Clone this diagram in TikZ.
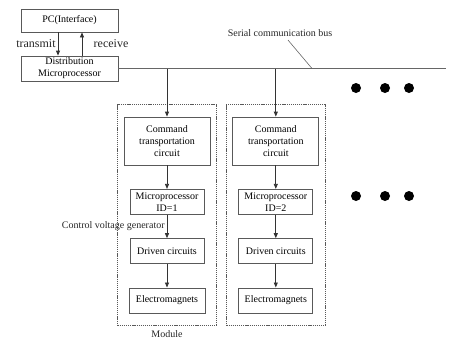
\documentclass[tikz,border=0pt]{standalone}
\usepackage{fontspec}
\setmainfont{Liberation Serif}
\usetikzlibrary{positioning, fit, arrows.meta}

\begin{document}
\begin{tikzpicture}[
        x=1pt, y=-1pt,
        node distance=23.5pt and 22pt,
        box/.style={draw=black!65, line width=0.8pt, rectangle, align=center, minimum width=74pt, minimum height=25pt, inner sep=1pt, font=\fontsize{10}{12}\selectfont},
        module/.style={draw=black!65, line width=0.7pt, dash pattern=on 1.2pt off 0.9pt, inner xsep=6pt, inner ysep=12pt},
        arrow/.style={-{Triangle[length=5pt, width=4pt]}, line width=0.8pt, black!80},
        line/.style={line width=0.8pt, black!60},
        lbl/.style={font=\fontsize{10}{12}\selectfont, text=black!85}
    ]
        \useasboundingbox (0,0) rectangle (449,338);

        % Nodes
        \node[box, minimum width=97pt, minimum height=23pt] (pc) at (69.5,20.5) {PC(Interface)};
        \node[box, minimum width=97pt] (dist) at (69.5,68.5) {Distribution\\Microprocessor};

        \node[box, minimum width=86pt, minimum height=48pt] (cmd1) at (167,141) {Command\\transportation\\circuit};
        \node[box, below=of cmd1] (micro1) {Microprocessor\\ID=1};
        \node[box, below=of micro1] (drive1) {Driven circuits};
        \node[box, below=of drive1, minimum width=76pt] (em1) {Electromagnets};

        \node[box, minimum width=86pt, minimum height=48pt, right=of cmd1] (cmd2) {Command\\transportation\\circuit};
        \node[box, below=of cmd2] (micro2) {Microprocessor\\ID=2};
        \node[box, below=of micro2] (drive2) {Driven circuits};
        \node[box, below=of drive2] (em2) {Electromagnets};

        \node[module, fit=(cmd1)(em1)] (mod1) {};
        \node[module, fit=(cmd2)(em2)] (mod2) {};
        \node[lbl, below=1pt of mod1] (modlbl) {Module};

        \node[lbl] (buslbl) at (280,33) {Serial communication bus};
        \coordinate (busend) at (446,68.5);
        \coordinate (tap) at (312,68.5);

        % PC <-> Distribution
        \draw[arrow] ([xshift=-11.5pt]pc.south) -- node[left, lbl, font=\fontsize{12}{14}\selectfont, inner sep=2pt]{transmit} ([xshift=-11.5pt]dist.north);
        \draw[arrow] ([xshift=12.5pt]dist.north) -- node[right, lbl, font=\fontsize{12}{14}\selectfont, xshift=8pt]{receive} ([xshift=12.5pt]pc.south);

        % Bus
        \draw[line] (dist.east) -- (busend);
        \draw[line, line width=0.6pt] ([xshift=8pt]buslbl.south) -- (tap);
        \draw[arrow] (cmd1.north |- busend) -- (cmd1.north);
        \draw[arrow] (cmd2.north |- busend) -- (cmd2.north);

        % Inside the modules
        \draw[arrow] (cmd1) -- (micro1);
        \draw[arrow] (micro1) -- node[left, lbl, inner sep=2pt]{Control voltage generator} (drive1);
        \draw[arrow] (drive1) -- (em1);
        \draw[arrow] (cmd2) -- (micro2);
        \draw[arrow] (micro2) -- (drive2);
        \draw[arrow] (drive2) -- (em2);

        % More modules
        \foreach \x in {356,385,409}
            \foreach \y in {88,196}
                \fill (\x,\y) circle (5pt);
    \end{tikzpicture}
\end{document}
